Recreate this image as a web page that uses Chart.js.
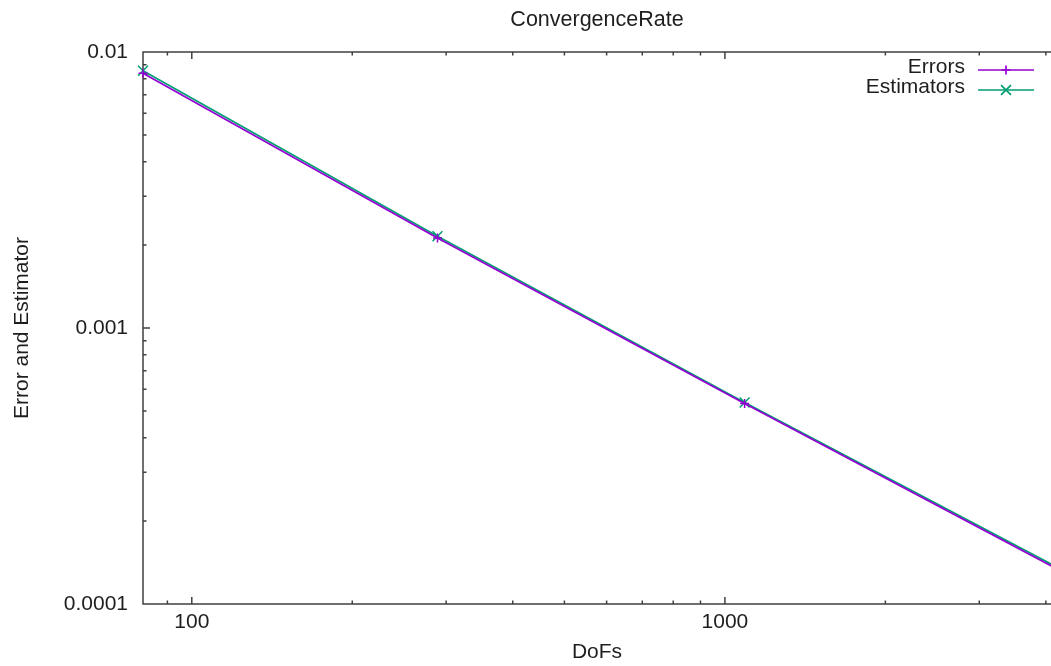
<!DOCTYPE html>
<html>
<head>
<meta charset="utf-8">
<title>ConvergenceRate</title>
<script src="https://cdn.jsdelivr.net/npm/chart.js@4"></script>
<style>
  body { margin: 0; background: #fff; }
</style>
</head>
<body>
<canvas id="myChart" width="1051" height="666"></canvas>
<script>
var dofs = [81, 289, 1089, 4225];
var errors = [0.00838, 0.00212, 0.000533, 0.000133];
var estimators = [0.00855, 0.00215, 0.000537, 0.000135];
var x_ticks = [100, 1000];
var x_tick_labels = ['100', '1000'];
var y_ticks = [0.0001, 0.001, 0.01];
var y_tick_labels = ['0.0001', '0.001', '0.01'];

var FONT = '"Liberation Sans", Arial, sans-serif';
var INK = '#1e1e1e';
var AXIS = '#404040';

function toPoints(ys) {
    return dofs.map(function(x, i) { return {x: x, y: ys[i]}; });
}

// 1..9 x 10^e inside [lo, hi], k == 1 is a major tick
function logTicks(lo, hi) {
    var out = [];
    for (var e = Math.floor(Math.log10(lo)) - 1; e <= Math.ceil(Math.log10(hi)); e++) {
        for (var k = 1; k < 10; k++) {
            var v = k * Math.pow(10, e);
            if (v >= lo * 0.999 && v <= hi * 1.001) out.push({v: v, major: k === 1});
        }
    }
    return out;
}

function marker(c, style, r, x, y) {
    c.beginPath();
    if (style === 'cross') {
        c.moveTo(x - r, y); c.lineTo(x + r, y);
        c.moveTo(x, y - r); c.lineTo(x, y + r);
    } else {
        var d = r * Math.SQRT1_2;
        c.moveTo(x - d, y - d); c.lineTo(x + d, y + d);
        c.moveTo(x - d, y + d); c.lineTo(x + d, y - d);
    }
    c.stroke();
}

// no extra room for edge labels, the plot runs to the right edge
function noPad(s) {
    s.paddingLeft = 0; s.paddingRight = 0;
    s.paddingTop = 0; s.paddingBottom = 0;
}

// gnuplot style border with inward ticks
var framePlugin = {
    id: 'frame',
    beforeDatasetsDraw: function(chart) {
        var a = chart.chartArea, c = chart.ctx;
        var xs = chart.scales.x, ys = chart.scales.y;
        c.save();
        c.strokeStyle = AXIS;
        c.lineWidth = 1.5;
        c.beginPath();
        c.moveTo(a.right, a.top); c.lineTo(a.left, a.top);
        c.lineTo(a.left, a.bottom); c.lineTo(a.right, a.bottom);
        logTicks(xs.min, xs.max).forEach(function(t) {
            var px = xs.getPixelForValue(t.v), len = t.major ? 7 : 3.5;
            c.moveTo(px, a.bottom); c.lineTo(px, a.bottom - len);
            c.moveTo(px, a.top); c.lineTo(px, a.top + len);
        });
        logTicks(ys.min, ys.max).forEach(function(t) {
            var py = ys.getPixelForValue(t.v), len = t.major ? 7 : 3.5;
            c.moveTo(a.left, py); c.lineTo(a.left + len, py);
        });
        c.stroke();
        c.restore();
    }
};

var keyPlugin = {
    id: 'key',
    afterDraw: function(chart) {
        var c = chart.ctx;
        c.save();
        c.font = '21px ' + FONT;
        c.textAlign = 'right';
        c.textBaseline = 'middle';
        chart.data.datasets.forEach(function(ds, i) {
            var y = 70 + i * 20;
            c.fillStyle = INK;
            c.fillText(ds.label, 965, y - 3);
            c.strokeStyle = ds.borderColor;
            c.lineWidth = ds.borderWidth;
            c.beginPath();
            c.moveTo(978, y); c.lineTo(1034, y);
            c.stroke();
            marker(c, ds.pointStyle, ds.pointRadius, 1006, y);
        });
        c.restore();
    }
};

var ctx = document.getElementById('myChart');
var myChart = new Chart(ctx, {
    type: 'line',
    data: {
        datasets: [{
            label: 'Errors',
            data: toPoints(errors),
            borderColor: '#9400d3',
            backgroundColor: '#9400d3',
            borderWidth: 1.7,
            pointStyle: 'cross',
            pointRadius: 4.5,
            pointBorderWidth: 1.5,
            tension: 0,
            fill: false,
            clip: false
        }, {
            label: 'Estimators',
            data: toPoints(estimators),
            borderColor: '#009e73',
            backgroundColor: '#009e73',
            borderWidth: 1.7,
            pointStyle: 'crossRot',
            pointRadius: 7,
            pointBorderWidth: 1.5,
            tension: 0,
            fill: false,
            clip: false
        }]
    },
    options: {
        responsive: false,
        animation: false,
        devicePixelRatio: 1,
        layout: { padding: 0, autoPadding: false },
        plugins: {
            legend: { display: false },
            tooltip: { enabled: false },
            title: {
                display: true,
                text: 'ConvergenceRate',
                color: INK,
                fullSize: false,
                font: { family: FONT, size: 21.5, weight: 'normal' },
                padding: { top: 7.6, bottom: 18.6 }
            }
        },
        scales: {
            x: {
                type: 'logarithmic',
                position: 'bottom',
                min: 81,
                max: 4090,
                grid: { display: false, drawTicks: false },
                border: { display: false },
                afterBuildTicks: function(s) {
                    s.ticks = x_ticks.map(function(v) { return {value: v}; });
                },
                ticks: {
                    autoSkip: false,
                    maxRotation: 0,
                    padding: 6,
                    color: INK,
                    font: { family: FONT, size: 21 },
                    callback: function(v, i) { return x_tick_labels[i]; }
                },
                title: {
                    display: true,
                    text: 'DoFs',
                    color: INK,
                    font: { family: FONT, size: 21 },
                    padding: { top: 0, bottom: 1.4 }
                },
                afterFit: function(s) { s.height = 62; noPad(s); }
            },
            y: {
                type: 'logarithmic',
                position: 'left',
                min: 0.0001,
                max: 0.01,
                grid: { display: false, drawTicks: false },
                border: { display: false },
                afterBuildTicks: function(s) {
                    s.ticks = y_ticks.map(function(v) { return {value: v}; });
                },
                ticks: {
                    autoSkip: false,
                    padding: 15,
                    color: INK,
                    font: { family: FONT, size: 21 },
                    callback: function(v, i) { return y_tick_labels[i]; }
                },
                title: {
                    display: true,
                    text: 'Error and Estimator',
                    color: INK,
                    font: { family: FONT, size: 21 },
                    padding: { top: 10, bottom: 0 }
                },
                afterFit: function(s) { s.width = 143; noPad(s); }
            }
        }
    },
    plugins: [framePlugin, keyPlugin]
});
</script>
</body>
</html>
